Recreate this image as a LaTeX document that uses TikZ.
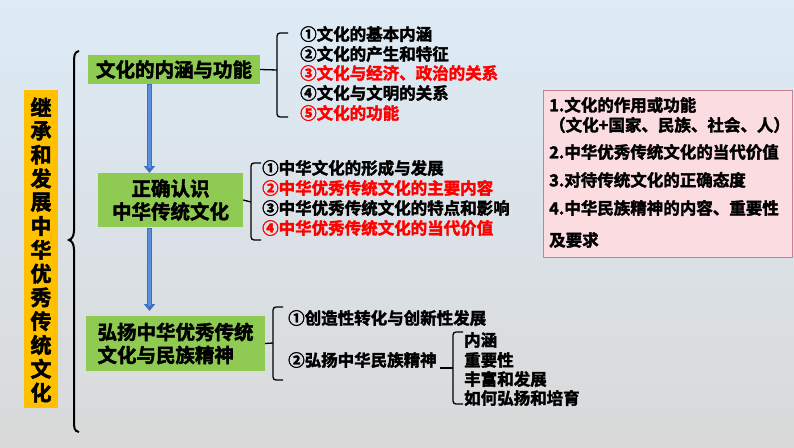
\documentclass[tikz,border=0pt]{standalone}
\usepackage{fontspec}
\setmainfont{Noto Sans CJK SC}[UprightFont=* Bold, BoldFont=* Bold, BoldFeatures={FakeBold=2.2}]
\usetikzlibrary{arrows.meta}
\definecolor{bgtop}{HTML}{DDEBF6}
\definecolor{bgbot}{HTML}{D9D9D9}
\definecolor{leafgreen}{HTML}{8FCB52}
\definecolor{goldbox}{HTML}{FFC000}
\definecolor{arrowblue}{HTML}{5B8FDB}
\definecolor{arrowedge}{HTML}{3F6FBF}
\definecolor{pinkfill}{HTML}{FADCE1}
\definecolor{pinkedge}{HTML}{C98090}
\definecolor{keyred}{HTML}{FF0000}
\tikzset{
  greenbox/.style={fill=leafgreen, inner sep=0pt, font=\fontsize{19.5}{23}\selectfont\bfseries},
  itemtext/.style={anchor=west, inner sep=0pt, font=\fontsize{16.5}{20}\selectfont\bfseries},
  bracketline/.style={line width=1.3pt, rounded corners=3pt},
  flowarrow/.style={draw=arrowedge, line width=4.2pt, -{Triangle[length=7pt,width=11pt]}},
  flowinner/.style={draw=arrowblue, line width=2.8pt, shorten >=5pt},
}
\begin{document}
\begin{tikzpicture}[x=1pt,y=-1pt]
\useasboundingbox (0,0) rectangle (794,447);
\shade[top color=bgtop, bottom color=bgbot] (0,0) rectangle (794,447);

% vertical gold title
\node[fill=goldbox, minimum width=34pt, minimum height=318pt, inner sep=0pt] (title) at (41,249) {};
\foreach \ch [count=\i from 0] in {继,承,和,发,展,中,华,优,秀,传,统,文,化}{
  \node[inner sep=0pt, font=\fontsize{21}{21}\selectfont\bfseries] at (41,{107+23.8*\i}) {\ch};
}

% big brace
\coordinate (bt) at (79,51);
\coordinate (bb) at (79,432);
\coordinate (btip) at (69,240);
\draw[line width=2pt] (bt) .. controls (74,52) and (74,56) .. (74,64) -- (74,230)
  .. controls (74,236) and (72,239) .. (btip) .. controls (72,241) and (74,244) .. (74,250)
  -- (74,420) .. controls (74,428) and (74,431) .. (bb);

% green boxes
\node[greenbox, minimum width=172pt, minimum height=29pt] (b1) at (174,69.5) {文化的内涵与功能};
\node[greenbox, minimum width=145pt, minimum height=54pt, align=center] (b2) at (170.5,200) {正确认识\\中华传统文化};
\node[greenbox, minimum width=179pt, minimum height=55pt, align=left] (b3) at (175.5,343.5) {弘扬中华优秀传统\\文化与民族精神};

% arrows
\coordinate (a1s) at (149.5,84);
\coordinate (a1e) at (149.5,173);
\draw[flowarrow] (a1s) -- (a1e);
\draw[flowinner] (149.5,85) -- (a1e);
\coordinate (a2s) at (149.5,228);
\coordinate (a2e) at (149.5,311);
\draw[flowarrow] (a2s) -- (a2e);
\draw[flowinner] (149.5,229) -- (a2e);

% bracket 1
\coordinate (k1) at (277,70);
\draw[line width=1.3pt] (b1.east) -- (k1);
\draw[bracketline] (288,33) -| (k1) |- (288,117);
\node[itemtext] (i11) at (300,34) {①文化的基本内涵};
\node[itemtext] (i12) at (300,54) {②文化的产生和特征};
\node[itemtext, text=keyred] (i13) at (300,73) {③文化与经济、政治的关系};
\node[itemtext] (i14) at (300,93) {④文化与文明的关系};
\node[itemtext, text=keyred] (i15) at (300,113) {⑤文化的功能};

% bracket 2
\coordinate (k2) at (251,202);
\draw[line width=1.3pt] (b2.east) -- (k2);
\draw[bracketline] (261,163) -| (k2) |- (261,240);
\node[itemtext] (i21) at (262,168) {①中华文化的形成与发展};
\node[itemtext, text=keyred] (i22) at (262,188) {②中华优秀传统文化的主要内容};
\node[itemtext] (i23) at (262,208) {③中华优秀传统文化的特点和影响};
\node[itemtext, text=keyred] (i24) at (262,228) {④中华优秀传统文化的当代价值};

% bracket 3
\coordinate (k3) at (273,343);
\draw[line width=1.3pt] (b3.east) -- (k3);
\draw[bracketline] (283,307) -| (k3) |- (283,380);
\node[itemtext] (i31) at (288,318) {①创造性转化与创新性发展};
\node[itemtext] (i32) at (288,360) {②弘扬中华民族精神};

% bracket 4
\coordinate (k4) at (453,368);
\coordinate (k4s) at (440,368);
\draw[line width=1.3pt] (k4s) -- (k4);
\draw[bracketline] (463,332) -| (k4) |- (463,404);
\node[itemtext] (s1) at (464,340) {内涵};
\node[itemtext] (s2) at (464,360) {重要性};
\node[itemtext] (s3) at (464,379) {丰富和发展};
\node[itemtext] (s4) at (464,398) {如何弘扬和培育};

% pink summary box
\node[draw=pinkedge, fill=pinkfill, line width=0.8pt, minimum width=249pt, minimum height=167pt, inner sep=0pt] (pink) at (667.5,173.5) {};
\node[itemtext] (p1) at (549,105) {1.文化的作用或功能};
\node[itemtext] (p2) at (549,125) {（文化+国家、民族、社会、人）};
\node[itemtext] (p3) at (549,152) {2.中华优秀传统文化的当代价值};
\node[itemtext] (p4) at (549,180) {3.对待传统文化的正确态度};
\node[itemtext] (p5) at (549,208) {4.中华民族精神的内容、重要性};
\node[itemtext] (p6) at (549,240) {及要求};
\end{tikzpicture}
\end{document}
